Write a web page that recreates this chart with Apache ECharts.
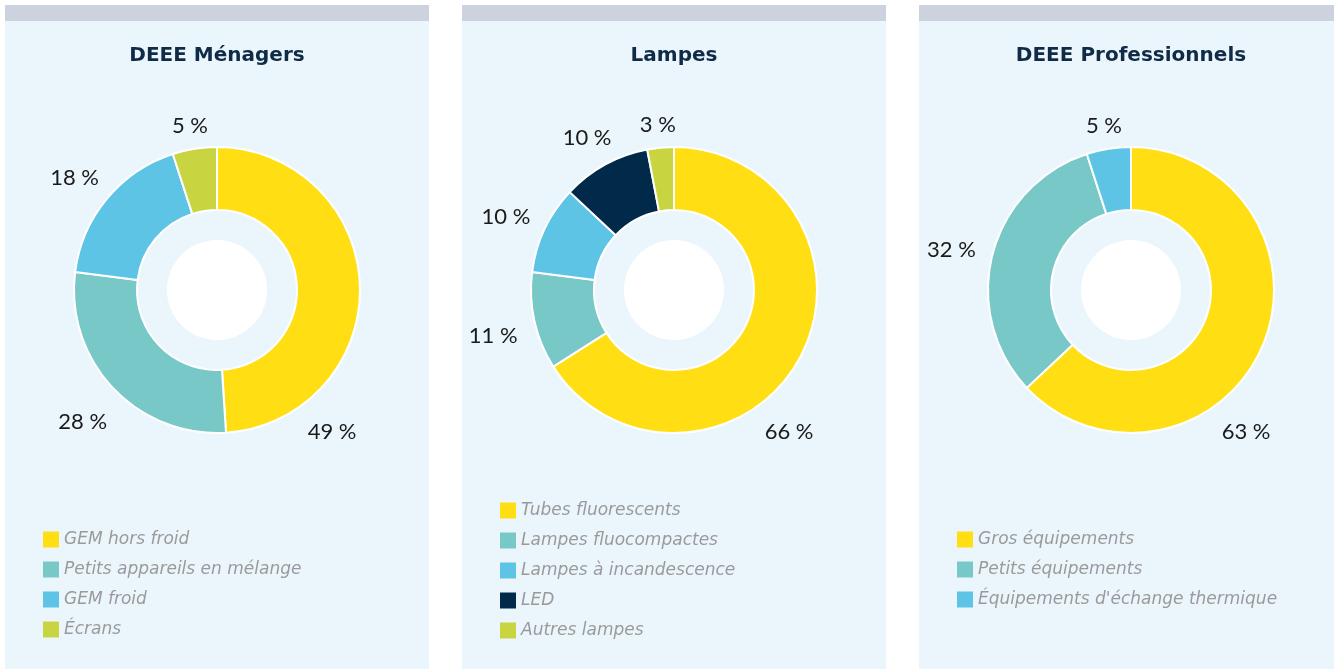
<!DOCTYPE html>
<html>
<head>
<meta charset="utf-8">
<script src="https://cdn.jsdelivr.net/npm/echarts@6/dist/echarts.min.js"></script>
<style>
    html, body {
        margin: 0;
        padding: 0;
        width: 1334px;
        height: 669px;
        overflow: hidden;
        background: #ffffff;
    }
    .panel {
        position: absolute;
        top: 5px;
        width: 424px;
        height: 648px;
        background: #ebf6fc;
        border-top: 16px solid #cdd2df;
    }
    .panel__chart {
        width: 424px;
        height: 648px;
    }
</style>
</head>
<body>
<div class="panel" style="left: 5px"><div id="chart-menagers" class="panel__chart"></div></div>
<div class="panel" style="left: 462px"><div id="chart-lampes" class="panel__chart"></div></div>
<div class="panel" style="left: 919px"><div id="chart-pro" class="panel__chart"></div></div>

<script>
// --- data ---
const menagersTitle = 'DEEE Ménagers';
const menagersNames = ['GEM hors froid', 'Petits appareils en mélange', 'GEM froid', 'Écrans'];
const menagersValues = [49, 28, 18, 5];

const lampesTitle = 'Lampes';
const lampesNames = ['Tubes fluorescents', 'Lampes fluocompactes', 'Lampes à incandescence', 'LED', 'Autres lampes'];
const lampesValues = [66, 11, 10, 10, 3];

const proTitle = 'DEEE Professionnels';
const proNames = ['Gros équipements', 'Petits équipements', "Équipements d'échange thermique"];
const proValues = [63, 32, 5];

// --- style ---
const YELLOW = '#ffdf13';
const TEAL = '#79c8c8';
const BLUE = '#5dc4e6';
const NAVY = '#012a4a';
const GREEN = '#c8d540';

const menagersColors = [YELLOW, TEAL, BLUE, GREEN];
const lampesColors = [YELLOW, TEAL, BLUE, NAVY, GREEN];
const proColors = [YELLOW, TEAL, BLUE];

const CENTER_Y = 269;
const OUTER_R = 143;
const INNER_R = 80;
const HOLE_R = 50;
const LABEL_GAP = 16;
const LABEL_DY = 6; // small labels sit a little low
const LABEL_FONT = '22px Lato';
// the biggest slice gets its label in the lower right corner
const BIG_LABEL_ANGLE = 141;

const measureCtx = document.createElement('canvas').getContext('2d');
const textWidth = (text) => {
    measureCtx.font = LABEL_FONT;
    return measureCtx.measureText(text).width;
};

const placeLabel = (chart, values, params) => {
    const total = values.reduce((a, b) => a + b, 0);
    const idx = params.dataIndex;
    let before = 0;
    for (let i = 0; i < idx; i++) {
        before += values[i];
    }
    let angle = ((before + values[idx] / 2) / total) * 360;
    let dy = LABEL_DY;
    if (idx === 0) {
        angle = BIG_LABEL_ANGLE;
        dy = 0;
    }
    const rad = (angle * Math.PI) / 180;
    const sx = Math.sin(rad);
    const sy = -Math.cos(rad);
    const w = textWidth(params.text);
    const h = params.labelRect.height;
    const dist = OUTER_R + LABEL_GAP + (Math.abs(sx) * w) / 2 + (Math.abs(sy) * h) / 2;
    const cx = chart.getWidth() / 2;
    return {
        x: cx + sx * dist,
        y: CENTER_Y + sy * dist + dy,
        align: 'center',
        verticalAlign: 'middle',
    };
};

const initDonut = (id, title, names, values, colors, legendTop) => {
    const chart = echarts.init(document.getElementById(id));
    chart.setOption({
        animation: false,
        color: colors,
        title: {
            text: title,
            left: 'center',
            top: 20,
            textStyle: {
                fontFamily: 'DejaVu Sans',
                fontSize: 20,
                fontWeight: 'bold',
                color: '#0f2b46',
            },
        },
        legend: {
            orient: 'vertical',
            left: 38,
            top: legendTop,
            padding: 0,
            icon: 'rect',
            itemWidth: 16,
            itemHeight: 16,
            itemGap: 13,
            selectedMode: false,
            data: names,
            itemStyle: {
                borderWidth: 0,
            },
            textStyle: {
                fontFamily: 'DejaVu Sans',
                fontSize: 17,
                fontStyle: 'italic',
                color: '#9a9a9a',
            },
        },
        series: [
            {
                type: 'pie',
                center: ['50%', CENTER_Y],
                radius: [INNER_R, OUTER_R],
                startAngle: 90,
                clockwise: true,
                silent: true,
                itemStyle: {
                    borderColor: '#ffffff',
                    borderWidth: 2,
                },
                label: {
                    show: true,
                    position: 'outside',
                    formatter: '{c} %',
                    fontFamily: 'Lato',
                    fontSize: 22,
                    color: '#1a1a1a',
                    // fixed width keeps the pie layout from truncating the text
                    width: 80,
                    overflow: 'none',
                },
                labelLine: {
                    show: false,
                },
                labelLayout: (params) => placeLabel(chart, values, params),
                data: names.map((name, i) => ({ name, value: values[i] })),
            },
            {
                type: 'pie',
                center: ['50%', CENTER_Y],
                radius: [0, HOLE_R],
                silent: true,
                label: { show: false },
                labelLine: { show: false },
                itemStyle: { color: '#ffffff' },
                data: [{ value: 1 }],
            },
        ],
    });
    return chart;
};

initDonut('chart-menagers', menagersTitle, menagersNames, menagersValues, menagersColors, 510);
initDonut('chart-lampes', lampesTitle, lampesNames, lampesValues, lampesColors, 481);
initDonut('chart-pro', proTitle, proNames, proValues, proColors, 510);
</script>
</body>
</html>
